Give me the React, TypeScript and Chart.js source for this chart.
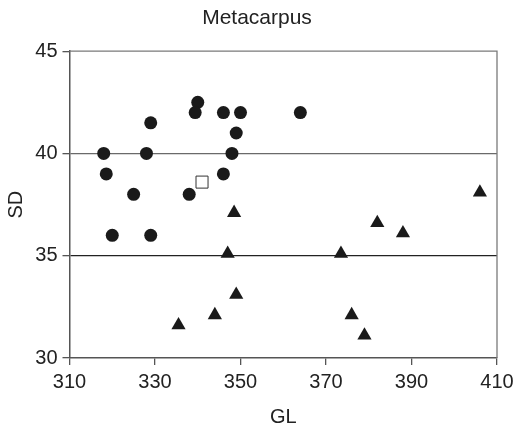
import React, { useEffect, useRef } from "react";
import { Chart, registerables } from "chart.js";

Chart.register(...registerables);

const circleGL = [318, 318.6, 320, 325, 328, 329, 329, 340, 339.4, 338, 346, 350, 349, 348, 346, 364];
const circleSD = [40, 39, 36, 38, 40, 41.5, 36, 42.5, 42, 38, 42, 42, 41, 40, 39, 42];

const squareGL = [341];
const squareSD = [38.6];

const triangleGL = [406, 348.5, 382, 388, 347, 373.5, 349, 344, 335.5, 376, 379];
const triangleSD = [38.1, 37.1, 36.6, 36.1, 35.1, 35.1, 33.1, 32.1, 31.6, 32.1, 31.1];

const xTicks = [310, 330, 350, 370, 390, 410];
const yTicks = [30, 35, 40, 45];

const toPoints = (xs: number[], ys: number[]) => xs.map((x, i) => ({ x, y: ys[i] }));

const framePlugin = {
  id: "frame",
  beforeDatasetsDraw(chart: any) {
    const { ctx, chartArea } = chart;
    ctx.save();
    ctx.strokeStyle = "#7a7a7a";
    ctx.lineWidth = 1.3;
    ctx.beginPath();
    ctx.moveTo(chartArea.left, chartArea.top);
    ctx.lineTo(chartArea.right, chartArea.top);
    ctx.lineTo(chartArea.right, chartArea.bottom);
    ctx.stroke();
    ctx.restore();
  },
};

export default function App() {
  const ref = useRef<HTMLCanvasElement>(null);
  useEffect(() => {
    if (!ref.current) return;
    const font = "'Liberation Sans', Arial, Helvetica, sans-serif";
    const chart = new Chart(ref.current, {
      type: "scatter",
      data: {
        datasets: [
          {
            data: toPoints(circleGL, circleSD),
            pointStyle: "circle",
            pointRadius: 6.5,
            backgroundColor: "#1a1a1a",
            borderColor: "#1a1a1a",
            borderWidth: 0,
          },
          {
            data: toPoints(triangleGL, triangleSD),
            pointStyle: "triangle",
            pointRadius: 8.2,
            backgroundColor: "#1a1a1a",
            borderColor: "#1a1a1a",
            borderWidth: 0,
          },
          {
            data: toPoints(squareGL, squareSD),
            pointStyle: "rect",
            pointRadius: 8.5,
            backgroundColor: "#ffffff",
            borderColor: "#333333",
            borderWidth: 1,
          },
        ],
      },
      options: {
        animation: false,
        responsive: false,
        maintainAspectRatio: false,
        layout: { padding: { left: 0, right: 0, top: 0, bottom: 0 } },
        plugins: {
          legend: { display: false },
          tooltip: { enabled: false },
          title: {
            display: true,
            text: "Metacarpus",
            color: "#222",
            font: { family: font, size: 21, weight: "normal" },
            padding: { top: 6, bottom: 20 },
          },
        },
        scales: {
          x: {
            type: "linear",
            min: 310,
            max: 410,
            afterBuildTicks: (scale: any) => {
              scale.ticks = xTicks.map((v) => ({ value: v }));
            },
            afterFit: (scale: any) => {
              scale.height = 71;
              scale.paddingRight = 17;
              scale.paddingLeft = 0;
            },
            ticks: {
              color: "#222",
              font: { family: font, size: 20 },
              padding: 5,
              maxRotation: 0,
            },
            grid: {
              drawOnChartArea: false,
              drawTicks: true,
              tickLength: 7,
              tickColor: "#555",
              lineWidth: 1.3,
            },
            border: { display: true, color: "#555", width: 1.5 },
            title: {
              display: true,
              text: "GL",
              color: "#222",
              font: { family: font, size: 20 },
              padding: { top: 0, bottom: 0 },
            },
          },
          y: {
            type: "linear",
            min: 30,
            max: 45,
            afterBuildTicks: (scale: any) => {
              scale.ticks = yTicks.map((v) => ({ value: v }));
            },
            afterFit: (scale: any) => {
              scale.width = 69.5;
            },
            ticks: {
              color: "#222",
              font: { family: font, size: 20 },
              padding: 5,
            },
            grid: {
              drawTicks: true,
              tickLength: 7,
              tickColor: "#555",
              lineWidth: 1.3,
              color: (c: any) => {
                const v = c.tick && c.tick.value;
                if (v === 40) return "#6a6a6a";
                if (v === 35) return "#222";
                return "rgba(0,0,0,0)";
              },
            },
            border: { display: true, color: "#555", width: 1.5 },
            title: {
              display: true,
              text: "SD",
              color: "#222",
              font: { family: font, size: 20 },
              padding: { top: 4, bottom: 0 },
            },
          },
        },
      },
      plugins: [framePlugin],
    });
    return () => chart.destroy();
  }, []);
  return (
    <div style={{ position: "fixed", left: 0, top: 0, width: 514, height: 429, background: "#fff" }}>
      <canvas ref={ref} width={514} height={429} style={{ display: "block", width: 514, height: 429 }} />
    </div>
  );
}
